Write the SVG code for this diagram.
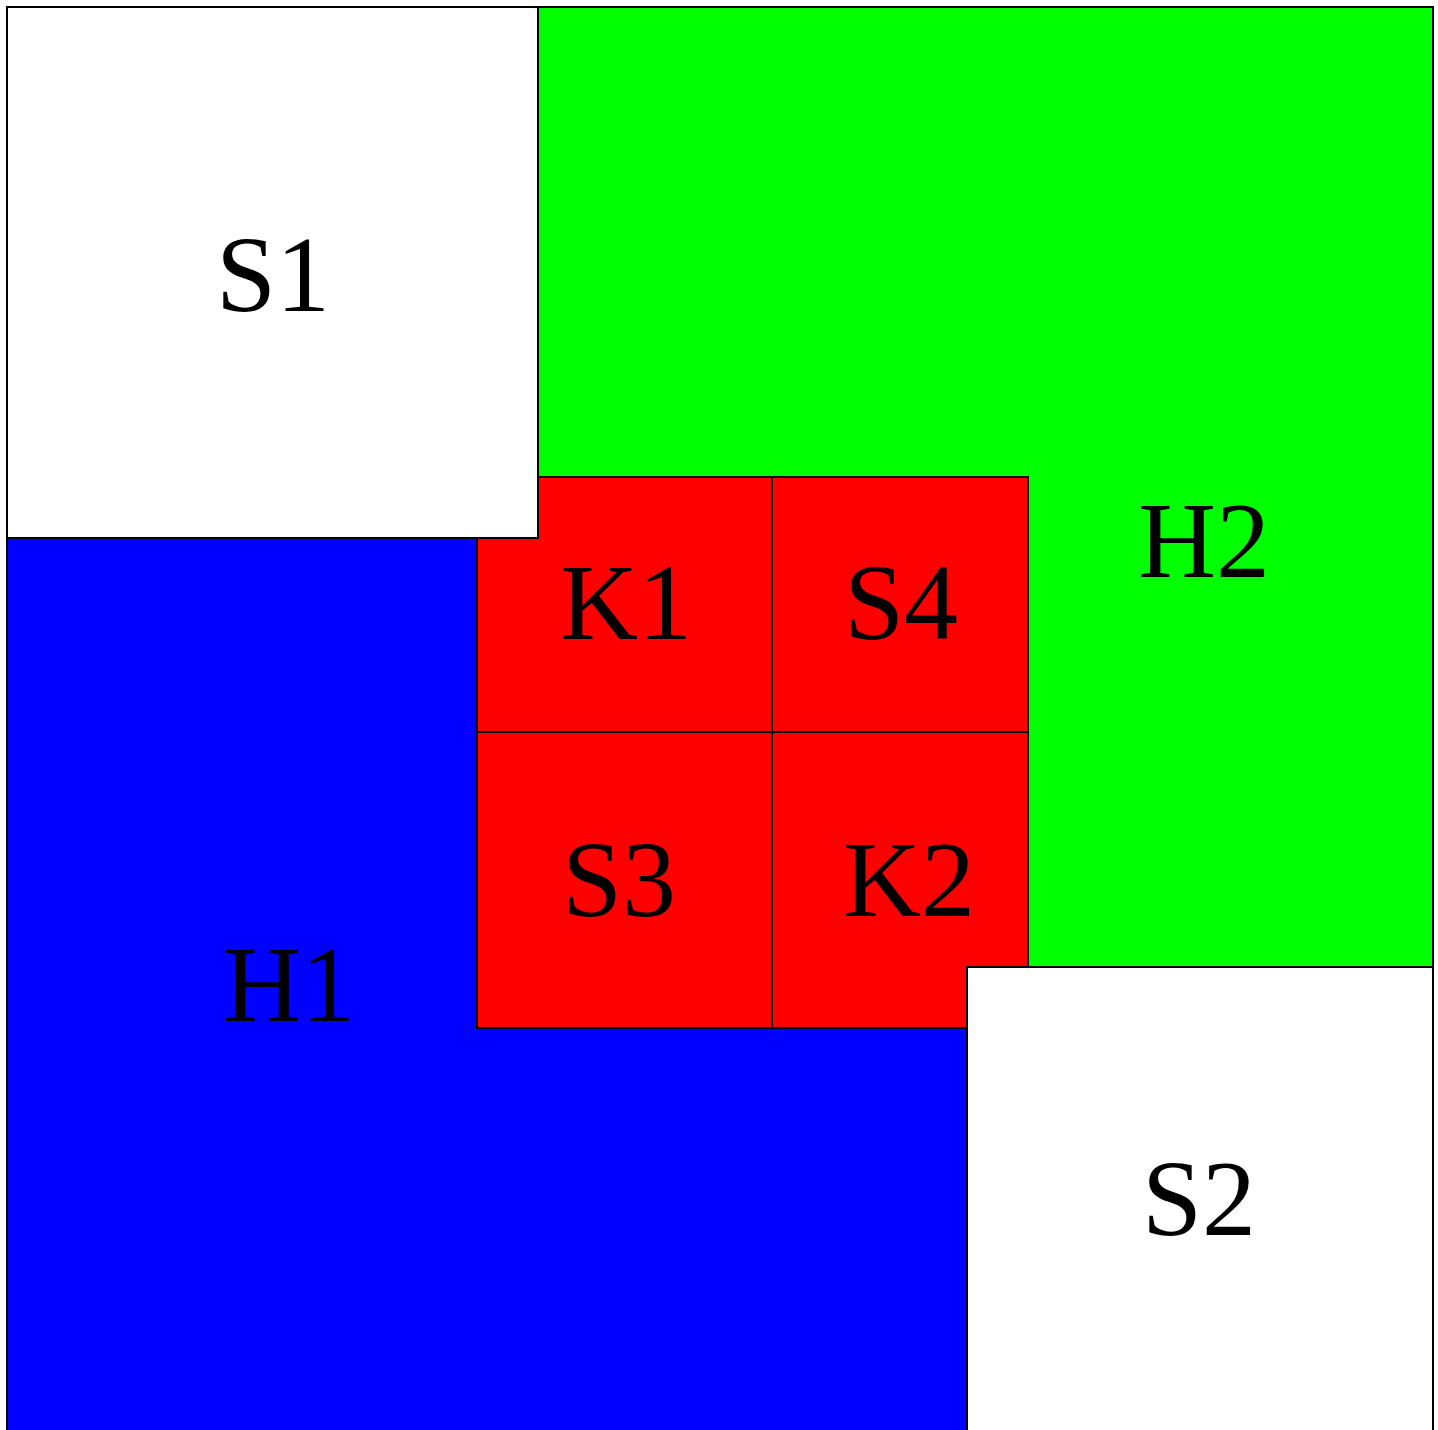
<svg xmlns="http://www.w3.org/2000/svg" width="1438" height="1430" viewBox="0 0 1438 1430">
<style>
rect{stroke:#000;stroke-width:2}
text{font-family:"Liberation Serif","Times New Roman",serif;font-size:108px;fill:#000;text-anchor:middle}
</style>
<rect width="1438" height="1430" fill="#fff" style="stroke:none"/>
<g id="H1"><rect x="7" y="538" width="960" height="960" fill="#0000ff"/><text x="289" y="1021">H1</text></g>
<g id="H2"><rect x="538" y="7" width="895" height="960" fill="#00ff00"/><text x="1204" y="577">H2</text></g>
<g id="K1"><rect x="477" y="477" width="295" height="255" fill="#ff0000"/><text x="626" y="639">K1</text></g>
<g id="S4"><rect x="772" y="477" width="256" height="255" fill="#ff0000"/><text x="901" y="639">S4</text></g>
<g id="S3"><rect x="477" y="732" width="295" height="296" fill="#ff0000"/><text x="619" y="916">S3</text></g>
<g id="K2"><rect x="772" y="732" width="256" height="296" fill="#ff0000"/><text x="909" y="916">K2</text></g>
<g id="S1"><rect x="7" y="7" width="531" height="531" fill="#fff"/><text x="273" y="311">S1</text></g>
<g id="S2"><rect x="967" y="967" width="466" height="500" fill="#fff"/><text x="1199" y="1235">S2</text></g>
<g id="connectors"></g>
</svg>
